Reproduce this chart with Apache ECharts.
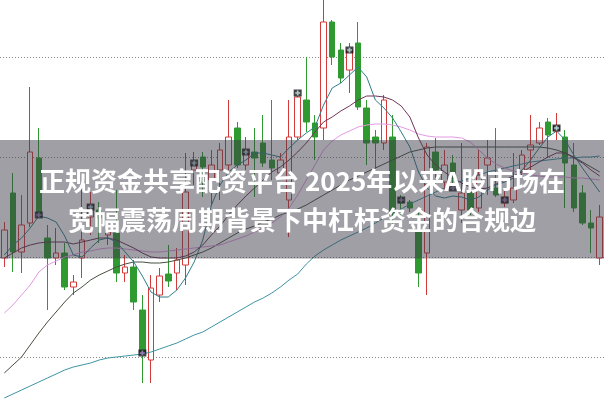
<!DOCTYPE html>
<html>
<head>
<meta charset="utf-8">
<script src="https://cdn.jsdelivr.net/npm/echarts@6/dist/echarts.min.js"></script>
<style>
html,body{margin:0;padding:0;background:#fff;}
#chart{width:604px;height:401px;}
</style>
</head>
<body>
<div id="chart"></div>
<script>
// candles: [open, close, low, high]
const candles = [
  [1.99,2.27,1.90,2.35],[2.64,2.05,1.85,2.84],[2.05,2.32,1.84,2.62],[2.34,3.05,2.30,3.70],
  [2.99,2.44,2.39,3.29],[2.19,1.99,1.47,2.32],[1.99,2.04,1.92,2.29],[2.04,1.70,1.67,2.14],
  [1.70,1.75,1.62,1.82],[1.99,2.17,1.79,2.70],[2.40,2.52,2.22,2.65],[2.47,2.39,2.14,2.55],
  [2.22,2.27,2.12,2.35],[2.24,1.84,1.75,2.67],[1.84,1.90,1.75,2.02],[1.90,1.55,1.47,1.97],
  [1.47,1.04,0.74,1.62],[0.97,1.69,0.74,1.82],[1.62,1.81,1.55,1.89],[1.83,1.76,1.70,2.12],
  [1.84,1.97,1.67,2.09],[1.92,2.65,1.72,3.04],[2.87,2.94,2.72,3.05],[3.00,2.90,2.60,3.05],
  [2.77,2.92,2.52,3.07],[2.87,3.07,2.57,3.14],[2.92,3.20,2.87,3.57],[3.29,2.92,2.89,3.35],
  [2.92,3.07,2.87,3.20],[3.05,2.99,2.60,3.29],[3.14,2.94,2.90,3.42],[2.97,2.89,2.77,3.57],
  [2.84,2.97,2.79,3.04],[2.57,3.20,2.20,3.57],[3.20,3.60,3.17,3.64],[3.57,3.35,3.25,4.00],
  [3.34,3.20,2.97,3.42],[3.29,4.35,3.17,4.57],[4.35,4.00,3.92,4.37],[4.07,3.79,3.74,4.14],
  [3.87,4.07,3.64,4.14],[4.14,3.50,3.47,4.35],[3.49,3.14,2.92,3.57],[3.20,3.14,2.87,3.27],
  [3.14,3.57,3.07,3.62],[3.20,2.44,2.32,3.42],[2.59,2.54,2.42,2.62],[2.55,2.49,2.45,2.57],
  [2.27,1.84,1.70,2.44],[2.04,3.10,1.62,3.14],[3.05,2.87,2.72,3.19],[2.75,2.92,2.67,3.07],
  [2.94,2.79,2.67,3.02],[2.47,2.64,2.34,3.14],[2.65,2.47,2.42,2.72],[2.49,2.82,2.45,3.07],
  [2.92,2.99,2.62,3.17],[2.69,2.62,2.60,3.29],[2.54,2.60,2.50,2.67],[2.57,2.69,2.54,3.04],
  [2.85,3.02,2.79,3.07],[3.07,3.12,2.82,3.42],[3.14,3.29,3.12,3.35],[3.35,3.22,2.99,3.39],
  [3.26,3.31,3.17,3.44],[3.20,2.94,2.49,3.27],[2.92,2.49,2.45,3.14],[2.64,2.34,2.32,2.72],
  [2.34,2.29,2.04,2.47],[1.99,2.40,1.92,2.52]
];
const categories = candles.map((_, i) => 'D' + (i + 1));

const ma5 = [2.02,2.12,2.19,2.29,2.41,2.39,2.35,2.21,2.02,2.00, 2.09,2.17,2.19,2.15,2.05,1.95,1.81,1.65,1.60,1.60,
  1.67,1.79,1.95,2.17,2.52,2.72,2.85,2.92,2.97,3.04, 3.04,3.02,3.00,3.09,3.17,3.24,3.30,3.52,3.69,3.74,
  3.82,3.90,3.80,3.57,3.49,3.39,3.25,3.10,2.85,2.69, 2.61,2.59,2.61,2.60,2.57,2.60,2.67,2.72,2.75,2.79,
  2.87,2.97,3.09,3.20,3.26,3.17,3.02,2.89,2.77,2.65];
const ma10 = [1.99,2.04,2.09,2.12,2.14,2.15,2.15,2.15,2.13,2.15, 2.17,2.19,2.19,2.17,2.13,2.09,2.04,2.00,1.99,1.99,
  1.99,2.01,2.05,2.12,2.22,2.31,2.42,2.52,2.61,2.69, 2.77,2.85,2.90,2.97,3.05,3.14,3.25,3.35,3.40,3.46,
  3.51,3.57,3.61,3.61,3.60,3.57,3.51,3.40,3.19,3.02, 2.92,2.85,2.79,2.74,2.70,2.68,2.69,2.73,2.77,2.81,
  2.85,2.90,2.95,3.00,3.04,3.04,2.99,2.94,2.87,2.81];
const ma20 = [1.44,1.52,1.62,1.72,1.85,1.92,1.96,2.00,2.02,2.05, 2.06,2.08,2.09,2.09,2.08,2.07,2.06,2.05,2.05,2.06,
  2.07,2.08,2.09,2.10,2.11,2.12,2.15,2.18,2.21,2.25, 2.29,2.34,2.40,2.49,2.62,2.77,2.92,3.07,3.16,3.22,
  3.26,3.30,3.32,3.33,3.33,3.32,3.30,3.27,3.23,3.21, 3.20,3.20,3.20,3.19,3.15,3.07,2.99,2.93,2.89,2.86,
  2.84,2.82,2.81,2.80,2.80,2.80,2.79,2.79,2.78,2.77];
const ma30 = [0.84,0.92,1.00,1.12,1.24,1.35,1.45,1.55,1.64,1.70, 1.77,1.82,1.86,1.90,1.93,1.95,1.95,1.94,1.94,1.95,
  1.97,1.99,2.02,2.05,2.09,2.14,2.19,2.24,2.28,2.31, 2.35,2.38,2.42,2.45,2.48,2.52,2.57,2.62,2.67,2.72,
  2.77,2.81,2.85,2.89,2.93,2.97,3.01,3.05,3.07,3.09, 3.10,3.10,3.10,3.10,3.10,3.10,3.10,3.10,3.10,3.10,
  3.10,3.10,3.10,3.09,3.07,3.04,3.00,2.95,2.90,2.85];
const ma60 = [0.59,0.63,0.67,0.71,0.75,0.79,0.83,0.87,0.90,0.92, 0.94,0.97,0.99,1.00,1.01,1.02,1.03,1.05,1.08,1.11,
  1.14,1.18,1.22,1.25,1.30,1.35,1.40,1.45,1.50,1.55, 1.59,1.64,1.70,1.77,1.83,1.93,2.01,2.07,2.12,2.17,
  2.21,2.25,2.29,2.34,2.39,2.44,2.48,2.53,2.57,2.61, 2.65,2.69,2.73,2.76,2.79,2.82,2.85,2.87,2.89,2.91,
  2.93,2.95,2.96,2.97,2.98,2.99,2.99,3.00,3.00,3.01];

const markCyan = [[10,2.50],[22,2.94],[28,3.05],[34,3.64],[40,4.07],[64,3.29]];
const markPurple = [[4,2.42],[16,1.04],[46,2.57],[52,2.69],[58,2.57]];

const titleLines = ['正规资金共享配资平台 2025年以来A股市场在', '宽幅震荡周期背景下中杠杆资金的合规边'];
const yTicks = [1, 2, 3, 4];

const chart = echarts.init(document.getElementById('chart'), null, {renderer: 'canvas'});
const lineS = (data, color, z) => ({
  type: 'line', data, symbol: 'none', clip: false, silent: true, z,
  lineStyle: {color, width: 1}, animation: false
});
const plus = 'path://M1,0h1v1h1v1h-1v1h-1v-1h-1v-1h1z';
chart.setOption({
  animation: false,
  backgroundColor: '#ffffff',
  grid: {left: -2.375, width: 612.5, top: 57, height: 300},
  xAxis: {
    type: 'category', data: categories, boundaryGap: true,
    axisLine: {show: false}, axisTick: {show: false}, axisLabel: {show: false}, splitLine: {show: false}
  },
  yAxis: {
    type: 'value', min: yTicks[0], max: yTicks[yTicks.length - 1], interval: 1,
    axisLine: {show: false}, axisTick: {show: false}, axisLabel: {show: false},
    splitLine: {show: true, lineStyle: {color: '#8a8a8a', type: [1, 2], width: 1}}
  },
  series: [
    {
      type: 'candlestick', data: candles, barWidth: 6, clip: false, z: 2,
      itemStyle: {
        color: '#ffffff', color0: '#2f9a30',
        borderColor: '#d33b3b', borderColor0: '#2f9a30', borderWidth: 1
      }
    },
    lineS(ma60, '#3d95a4', 3),
    lineS(ma30, '#45503f', 3),
    lineS(ma20, '#e39ae3', 3),
    lineS(ma10, '#6e3658', 3),
    lineS(ma5, '#2f7f8a', 3),
    {type: 'scatter', data: markCyan.concat(markPurple), symbol: 'rect', symbolSize: [8, 7],
     itemStyle: {color: '#141414'}, z: 4, clip: false, silent: true},
    {type: 'scatter', data: markCyan, symbol: plus, symbolSize: 5,
     itemStyle: {color: '#c8f0f4'}, z: 5, clip: false, silent: true},
    {type: 'scatter', data: markPurple, symbol: plus, symbolSize: 5,
     itemStyle: {color: '#b494d8'}, z: 5, clip: false, silent: true}
  ],
  graphic: [
    {type: 'rect', left: 0, top: 140, z: 100, silent: true,
     shape: {width: 604, height: 118.5}, style: {fill: 'rgba(60,60,72,0.49)'}},
    {type: 'text', x: 302, y: 181, z: 101, silent: true,
     style: {text: titleLines[0], fill: '#ffffff', align: 'center', verticalAlign: 'middle',
             font: 'bold 26px "Noto Sans CJK SC", sans-serif'}},
    {type: 'text', x: 302, y: 220, z: 101, silent: true,
     style: {text: titleLines[1], fill: '#ffffff', align: 'center', verticalAlign: 'middle',
             font: 'bold 26px "Noto Sans CJK SC", sans-serif'}}
  ]
});
</script>
</body>
</html>
